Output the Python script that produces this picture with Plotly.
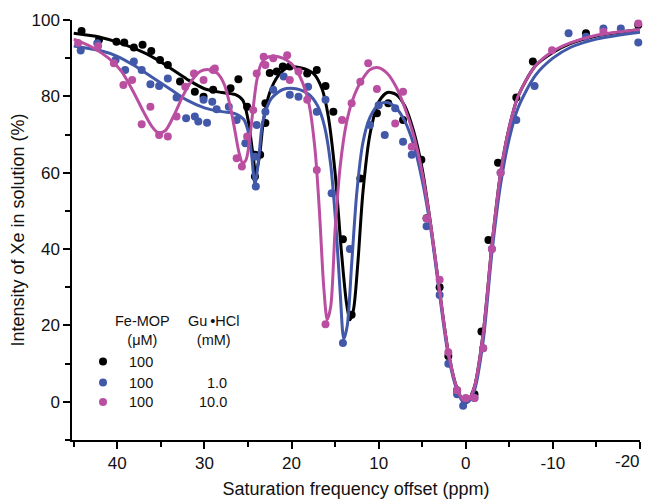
import plotly.graph_objects as go

# ---------------- data ----------------
black_x = [44.1, 42.1, 40.1, 39.2, 38.1, 37.1, 36.1, 35.1, 34.2, 32.8, 31.1, 30.1, 29.0, 27.0, 26.1,
           25.1, 24.2, 24.2, 23.6, 23.0, 23.0, 22.5, 21.7, 21.0, 20.2, 18.2, 17.1, 16.1, 15.2,
           14.1, 13.1, 12.1, 10.2, 8.9, 7.2, 5.1, 4.5, 3.0, 2.0, 1.0, 0.0, -1.0, -1.8, -2.6, -3.7,
           -5.8, -7.7, -13.8, -19.8]
black_y = [97.1, 94.8, 94.3, 94.1, 92.8, 93.5, 91.9, 89.5, 88.2, 83.9, 81.2, 79.9, 81.7, 82.1, 84.5,
           77.3, 64.7, 59.0, 64.7, 73.0, 78.2, 86.1, 86.5, 87.8, 87.8, 86.0, 86.9, 82.7, 76.0,
           42.6, 22.8, 58.5, 75.6, 78.2, 73.8, 63.4, 48.1, 30.0, 12.0, 3.0, 0.5, 2.0, 18.4, 42.4, 62.6,
           79.7, 89.1, 96.5, 98.7]

blue_x = [44.2, 42.3, 40.2, 39.1, 38.1, 37.2, 36.2, 35.2, 34.2, 33.2, 32.1, 31.1, 30.7, 29.7, 30.1,
          29.1, 28.6, 27.2, 26.3, 25.3, 24.2, 24.1, 24.0, 23.0, 22.1, 20.9, 20.2, 19.2, 18.1, 17.1,
          16.1, 15.4, 14.1, 13.3, 11.0, 10.0, 9.3, 8.1, 7.2, 6.2, 4.5, 3.0, 2.0, 1.0, 0.3, -1.0,
          -2.0, -3.0, -4.0, -5.8, -7.9, -11.8, -13.8, -15.8, -17.8, -19.8]
blue_y = [92.0, 93.9, 89.5, 86.9, 89.1, 86.9, 83.2, 82.7, 84.7, 79.7, 74.3, 74.7, 73.4, 73.1, 79.1,
          78.6, 76.6, 77.3, 73.8, 67.7, 64.2, 56.4, 72.5, 76.0, 81.7, 85.2, 80.4, 79.9, 82.5, 76.0,
          79.1, 54.6, 15.4, 40.0, 72.5, 77.7, 69.9, 76.9, 68.1, 64.7, 46.0, 28.0, 10.0, 2.0, -1.0, 1.0,
          14.0, 40.0, 60.0, 73.8, 82.7, 96.5, 95.6, 97.8, 97.8, 94.1]

mag_x = [44.5, 42.2, 40.4, 39.3, 38.3, 37.2, 36.2, 35.2, 34.2, 33.2, 32.2, 31.2, 30.1, 29.0, 28.8,
         26.3, 25.7, 25.1, 24.4, 24.0, 23.2, 23.0, 22.1, 20.5, 20.2, 19.2, 18.2, 17.1, 16.1,
         14.2, 13.1, 12.1, 11.2, 10.2, 8.1, 7.2, 6.2, 4.5, 3.0, 2.0, 1.0, 0.0, -1.0, -2.0, -3.0,
         -4.0, -9.9, -15.8, -19.8]
mag_y = [94.0, 93.2, 88.7, 83.0, 84.3, 72.7, 77.3, 69.9, 69.5, 74.7, 82.5, 86.0, 84.3, 86.9, 87.3,
         63.8, 61.6, 69.5, 76.4, 86.0, 90.4, 88.2, 90.0, 90.8, 84.3, 86.5, 79.1, 60.7, 20.3,
         73.8, 78.2, 83.8, 88.7, 81.9, 72.9, 81.2, 66.8, 48.0, 32.0, 13.0, 3.0, 1.0, 1.0, 14.0, 40.0,
         60.0, 92.1, 96.9, 99.1]

# fitted curves, control points
black_fx = [45, 42, 40, 37, 35, 32, 30, 28, 26.5, 25.6, 25.0, 24.5, 24.1, 23.7, 23.2, 22.5, 21.5, 20.5,
            19, 17.5, 16.5, 15.8, 15.0, 14.3, 13.7, 13.3, 12.9, 12.4, 11.8, 11.0, 10.0, 9.0, 8.0, 7.0,
            6.0, 5.0, 4.0, 3.0, 2.0, 1.0, 0.3, -0.3, -1.0, -2.0, -3.0, -4.0, -5.0, -6.0, -8.0,
            -10, -12, -15, -20]
black_fy = [96.5, 95.5, 94.2, 91.5, 89, 84.5, 82, 81, 80.5, 79, 74, 66, 60, 64, 74, 81, 85.5, 87.5,
            87.5, 86, 82, 75, 60, 40, 26, 21.5, 24, 36, 55, 70, 78.5, 81, 80.5, 77.5,
            71, 61, 46, 29, 13, 3.5, 0.5, 0.5, 4, 18, 41, 60, 72, 80, 88,
            91.5, 93.8, 95.8, 97.5]
blue_fx = [45, 42, 40, 38, 36, 34, 32, 30, 28, 26.5, 25.5, 25.0, 24.6, 24.2, 23.8, 23.4, 23.0, 22.3,
           21.0, 19.5, 18.0, 17.0, 16.2, 15.5, 14.9, 14.4, 14.0, 13.6, 13.1, 12.5, 11.8, 11.0,
           10.0, 9.0, 8.0, 7.0, 6.0, 5.0, 4.0, 3.0, 2.0, 1.0, 0.3, -0.3, -1.0, -2.0, -3.0, -4.0,
           -5.0, -6.0, -8.0, -10, -12, -15, -20]
blue_fy = [93.2, 92, 90.5, 88, 85, 82, 79, 77, 76, 75.5, 74, 71, 65, 57, 63, 72, 76, 79.5,
           81.8, 82, 80.5, 77.5, 72, 62, 46, 28, 16.5, 20, 36, 55, 68, 74.5,
           77.8, 78.4, 77, 73.5, 67.5, 58, 45, 28, 12, 3, 0, 0, 3, 16, 39, 57,
           69, 77, 85.5, 90, 92.8, 95, 96.8]
mag_fx = [45, 43, 41, 39.5, 38, 37, 36, 35.3, 34.5, 33.5, 32.5, 31.5, 30.5, 29.5, 28.5, 27.7, 27.0,
          26.5, 26.0, 25.6, 25.2, 24.8, 24.4, 24.0, 23.5, 23.0, 22.0, 21.0, 20.0, 19.0, 18.0, 17.3,
          16.8, 16.3, 15.9, 15.5, 15.0, 14.4, 13.7, 13.0, 12.0, 11.0, 10.0, 9.0, 8.0, 7.0,
          6.0, 5.0, 4.0, 3.0, 2.0, 1.0, 0.3, -0.3, -1.0, -2.0, -3.0, -4.0, -5.0, -6.0, -8.0,
          -10, -12, -15, -20]
mag_fy = [95, 93, 90, 86.5, 80.5, 76, 72, 70.5, 71, 75, 80, 84, 86.5, 87, 86, 83, 77,
          71, 65, 62.5, 63.5, 69, 77, 84, 88.5, 90, 90.5, 90, 88.5, 85, 78, 66,
          50, 30, 21.5, 25, 45, 62, 73, 79, 84, 87, 87.5, 86, 82.5, 77,
          70, 60, 46, 29, 13, 3.5, 0.5, 0.5, 4, 18, 41, 60, 72, 80, 88,
          91.8, 94, 96, 97.5]

series_names = ["Fe-MOP", "Fe-MOP + Gu·HCl 1.0 mM", "Fe-MOP + Gu·HCl 10.0 mM"]
colors = ["#000000", "#4258A9", "#BA4FA1"]

x_ticks = [40, 30, 20, 10, 0, -10, -20]
x_tick_labels = ["40", "30", "20", "10", "0", "-10", "-20"]
y_ticks = [0, 20, 40, 60, 80, 100]

legend_conc_fe = ["100", "100", "100"]
legend_conc_gu = ["", "1.0", "10.0"]

# ---------------- figure ----------------
fig = go.Figure()
pts = [(black_x, black_y), (blue_x, blue_y), (mag_x, mag_y)]
fits = [(black_fx, black_fy), (blue_fx, blue_fy), (mag_fx, mag_fy)]
for i in range(3):
    fig.add_trace(go.Scatter(x=pts[i][0], y=pts[i][1], mode="markers", name=series_names[i],
                             marker=dict(color=colors[i], size=8, line=dict(width=0)),
                             showlegend=False, cliponaxis=False))
    fig.add_trace(go.Scatter(x=fits[i][0], y=fits[i][1], mode="lines",
                             line=dict(color=colors[i], width=3, shape="spline", smoothing=0.8),
                             showlegend=False, cliponaxis=False))

FONT = "Liberation Sans, Arial, sans-serif"
OFF = 8  # page body margin of the html page
FW, FH = 651 - OFF, 502 - OFF
L, R, T, B = 72 - OFF, 11, 20 - OFF, 62
fig.update_layout(
    width=FW, height=FH,
    margin=dict(l=L, r=R, t=T, b=B, autoexpand=False),
    paper_bgcolor="white", plot_bgcolor="white",
    font=dict(family=FONT, color="#111111"),
    showlegend=False,
)
# last tick label is placed separately (right-aligned to the axis end, as in the original)
fig.update_xaxes(range=[45.2, -20], tickvals=x_ticks, ticktext=x_tick_labels[:-1] + [""],
                 automargin=False,
                 ticks="outside", ticklen=7, tickwidth=1.5, tickcolor="black",
                 showline=True, linecolor="black", linewidth=1.5, showgrid=False, zeroline=False,
                 minor=dict(tickvals=[45, 35, 25, 15, 5, -5, -15], ticks="outside", ticklen=5,
                            tickwidth=1.5, tickcolor="black"),
                 tickfont=dict(size=17, family=FONT),
                 title=dict(text="Saturation frequency offset (ppm)", font=dict(size=18, family=FONT),
                            standoff=10))
fig.update_yaxes(range=[-10, 100], tickvals=y_ticks, ticks="outside", ticklen=7, tickwidth=1.5,
                 automargin=False, ticklabeloverflow="allow",
                 tickcolor="black", showline=True, linecolor="black", linewidth=1.5,
                 showgrid=False, zeroline=False,
                 minor=dict(tickvals=[-10, 10, 30, 50, 70, 90], ticks="outside", ticklen=5,
                            tickwidth=1.5, tickcolor="black"),
                 tickfont=dict(size=17, family=FONT),
                 title=dict(text="Intensity of Xe in solution (%)", font=dict(size=18, family=FONT),
                            standoff=8))

# legend block drawn as text + dots (paper coordinates; arguments are screen pixels)
W, H = FW - L - R, FH - T - B
def px(xp): return (xp - OFF - L) / W
def py(yp): return 1 - (yp - OFF - T) / H

fig.add_annotation(xref="x", yref="paper", x=x_ticks[-1], y=py(461), text=x_tick_labels[-1],
                   showarrow=False, xanchor="right", yanchor="middle", xshift=2,
                   font=dict(size=17, family=FONT, color="#111111"))

LEG = 14.5
ann = [
    dict(text="Fe-MOP<br>(μM)", x=px(142.5), y=py(330)),
    dict(text="Gu\u2009\u2022HCl<br>(mM)", x=px(214), y=py(330)),
]
for a in ann:
    fig.add_annotation(xref="paper", yref="paper", x=a["x"], y=a["y"], text=a["text"],
                       showarrow=False, font=dict(size=LEG, family=FONT, color="#111111"),
                       xanchor="center", yanchor="middle", align="center")
rows_y = [361.5, 382.5, 402]
for i in range(3):
    fig.add_shape(type="circle", xref="paper", yref="paper",
                  x0=px(99), x1=px(107), y0=py(rows_y[i] + 4), y1=py(rows_y[i] - 4),
                  fillcolor=colors[i], line=dict(width=0))
    fig.add_annotation(xref="paper", yref="paper", x=px(141), y=py(rows_y[i]),
                       text=legend_conc_fe[i], showarrow=False,
                       font=dict(size=LEG, family=FONT, color="#111111"), xanchor="center", yanchor="middle")
    if legend_conc_gu[i]:
        fig.add_annotation(xref="paper", yref="paper", x=px(229), y=py(rows_y[i]),
                           text=legend_conc_gu[i], showarrow=False,
                           font=dict(size=LEG, family=FONT, color="#111111"), xanchor="right", yanchor="middle")

fig.write_html("out.html")
